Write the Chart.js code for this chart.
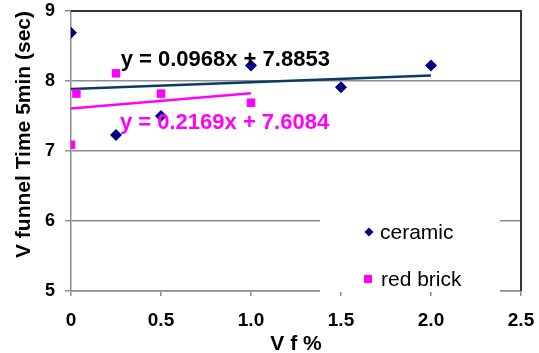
<!DOCTYPE html>
<html>
<head>
<meta charset="utf-8">
<script src="https://cdn.jsdelivr.net/npm/chart.js@4.4.0/dist/chart.umd.min.js"></script>
<style>
  html, body { margin: 0; padding: 0; background: #fff; }
  #wrap { width: 539px; height: 353px; }
</style>
</head>
<body>
<div id="wrap"><canvas id="chart"></canvas></div>
<script>
// data
const ceramicX = [0, 0.25, 0.5, 1, 1.5, 2];
const ceramicY = [8.69, 7.23, 7.5, 8.22, 7.91, 8.22];
const brickX = [0, 0.03, 0.25, 0.5, 1];
const brickY = [7.09, 7.82, 8.11, 7.82, 7.69];
const seriesNames = ["ceramic", "red brick"];

// linear trendlines: [slope, intercept] and x range drawn
const ceramicFit = [0.0968, 7.8853];
const brickFit = [0.2169, 7.6084];
const ceramicFitRange = [0, 2];
const brickFitRange = [0, 1];
const fitLabels = ["y = 0.0968x + 7.8853", "y = 0.2169x + 7.6084"];

const xTicks = [0, 0.5, 1, 1.5, 2, 2.5];
const yTicks = [5, 6, 7, 8, 9];
const xTitle = "V f %";
const yTitle = "V funnel Time 5min (sec)";

const NAVY = "#000080";
const PINK = "#ff00ff";
const LINE_NAVY = "#0b3a66";
const GRID = "#8c8c8c";
const FONT = "'Liberation Sans', Arial, sans-serif";

function toPoints(xs, ys) {
  return xs.map((x, i) => ({ x: x, y: ys[i] }));
}
function fitPoints(fit, range) {
  return range.map((x) => ({ x: x, y: fit[0] * x + fit[1] }));
}

// equation texts, placed in data coordinates
const fitLabelPlugin = {
  id: "fitLabels",
  afterDatasetsDraw(chart) {
    const { ctx, scales } = chart;
    const spots = [
      { text: fitLabels[0], x: 0.276, y: 8.3, color: "#000" },
      { text: fitLabels[1], x: 0.272, y: 7.395, color: PINK },
    ];
    ctx.save();
    ctx.font = "bold 22px " + FONT;
    ctx.textBaseline = "middle";
    ctx.textAlign = "left";
    spots.forEach((s) => {
      ctx.fillStyle = s.color;
      ctx.fillText(s.text, scales.x.getPixelForValue(s.x), scales.y.getPixelForValue(s.y));
    });
    ctx.restore();
  },
};

// top / right frame and the boxed legend inside the plot
const framePlugin = {
  id: "frame",
  afterDraw(chart) {
    const { ctx, chartArea: a } = chart;
    ctx.save();
    ctx.strokeStyle = "#333";
    ctx.lineWidth = 2;
    ctx.beginPath();
    ctx.moveTo(a.left, a.top);
    ctx.lineTo(a.right, a.top);
    ctx.lineTo(a.right, a.bottom);
    ctx.stroke();

    // legend box
    const bx = a.left + 249, by = a.top + 194, bw = 180, bh = 87;
    ctx.fillStyle = "#fff";
    ctx.fillRect(bx, by, bw, bh);

    ctx.font = "21px " + FONT;
    ctx.textBaseline = "middle";
    ctx.textAlign = "left";

    // ceramic: diamond
    let cx = a.left + 298, cy = a.top + 221;
    ctx.fillStyle = NAVY;
    ctx.beginPath();
    ctx.moveTo(cx, cy - 4.5);
    ctx.lineTo(cx + 4.5, cy);
    ctx.lineTo(cx, cy + 4.5);
    ctx.lineTo(cx - 4.5, cy);
    ctx.closePath();
    ctx.fill();
    ctx.fillStyle = "#000";
    ctx.fillText(seriesNames[0], a.left + 309, cy + 1);

    // red brick: square
    cx = a.left + 297; cy = a.top + 268;
    ctx.fillStyle = PINK;
    ctx.fillRect(cx - 4, cy - 4, 8, 8);
    ctx.fillStyle = "#000";
    ctx.fillText(seriesNames[1], a.left + 310, cy + 1);
    ctx.restore();
  },
};

const ctx = document.getElementById("chart").getContext("2d");
new Chart(ctx, {
  type: "scatter",
  data: {
    datasets: [
      {
        label: seriesNames[0],
        data: toPoints(ceramicX, ceramicY),
        pointStyle: "rectRot",
        pointRadius: 6,
        backgroundColor: NAVY,
        borderColor: NAVY,
        borderWidth: 0,
      },
      {
        label: seriesNames[1],
        data: toPoints(brickX, brickY),
        pointStyle: "rect",
        pointRadius: 6,
        backgroundColor: PINK,
        borderColor: PINK,
        borderWidth: 0,
      },
      {
        label: "ceramic fit",
        data: fitPoints(ceramicFit, ceramicFitRange),
        showLine: true,
        pointRadius: 0,
        borderColor: LINE_NAVY,
        borderWidth: 2.5,
      },
      {
        label: "red brick fit",
        data: fitPoints(brickFit, brickFitRange),
        showLine: true,
        pointRadius: 0,
        borderColor: PINK,
        borderWidth: 2.5,
      },
    ],
  },
  options: {
    responsive: true,
    maintainAspectRatio: false,
    animation: false,
    layout: { padding: { left: 0, right: 18, top: 11, bottom: 0 } },
    plugins: {
      legend: { display: false },
      tooltip: { enabled: false },
    },
    scales: {
      x: {
        type: "linear",
        min: 0,
        max: 2.5,
        afterBuildTicks: (axis) => { axis.ticks = xTicks.map((v) => ({ value: v })); },
        afterFit: (axis) => {
          axis.height = 62;
          axis.paddingLeft = 0;
          axis.paddingRight = 0;
        },
        grid: { drawOnChartArea: false, drawTicks: true, tickLength: 5, color: GRID, lineWidth: 1.5 },
        border: { color: GRID, width: 1.5 },
        ticks: {
          padding: 13,
          color: "#000",
          font: { family: FONT, size: 19, weight: "bold" },
        },
        title: {
          display: true,
          text: xTitle,
          color: "#000",
          padding: { top: 0, bottom: -4 },
          font: { family: FONT, size: 21, weight: "bold" },
        },
      },
      y: {
        type: "linear",
        min: 5,
        max: 9,
        afterBuildTicks: (axis) => { axis.ticks = yTicks.map((v) => ({ value: v })); },
        afterFit: (axis) => {
          axis.width = 71;
          axis.paddingTop = 0;
          axis.paddingBottom = 0;
        },
        grid: { drawOnChartArea: true, drawTicks: true, tickLength: 6, color: GRID, lineWidth: 1.5 },
        border: { color: GRID, width: 1.5 },
        ticks: {
          padding: 10,
          color: "#000",
          font: { family: FONT, size: 18, weight: "bold" },
        },
        title: {
          display: true,
          text: yTitle,
          align: "end",
          color: "#000",
          padding: { top: 12, bottom: 0 },
          font: { family: FONT, size: 21, weight: "bold" },
        },
      },
    },
  },
  plugins: [fitLabelPlugin, framePlugin],
});
</script>
</body>
</html>
